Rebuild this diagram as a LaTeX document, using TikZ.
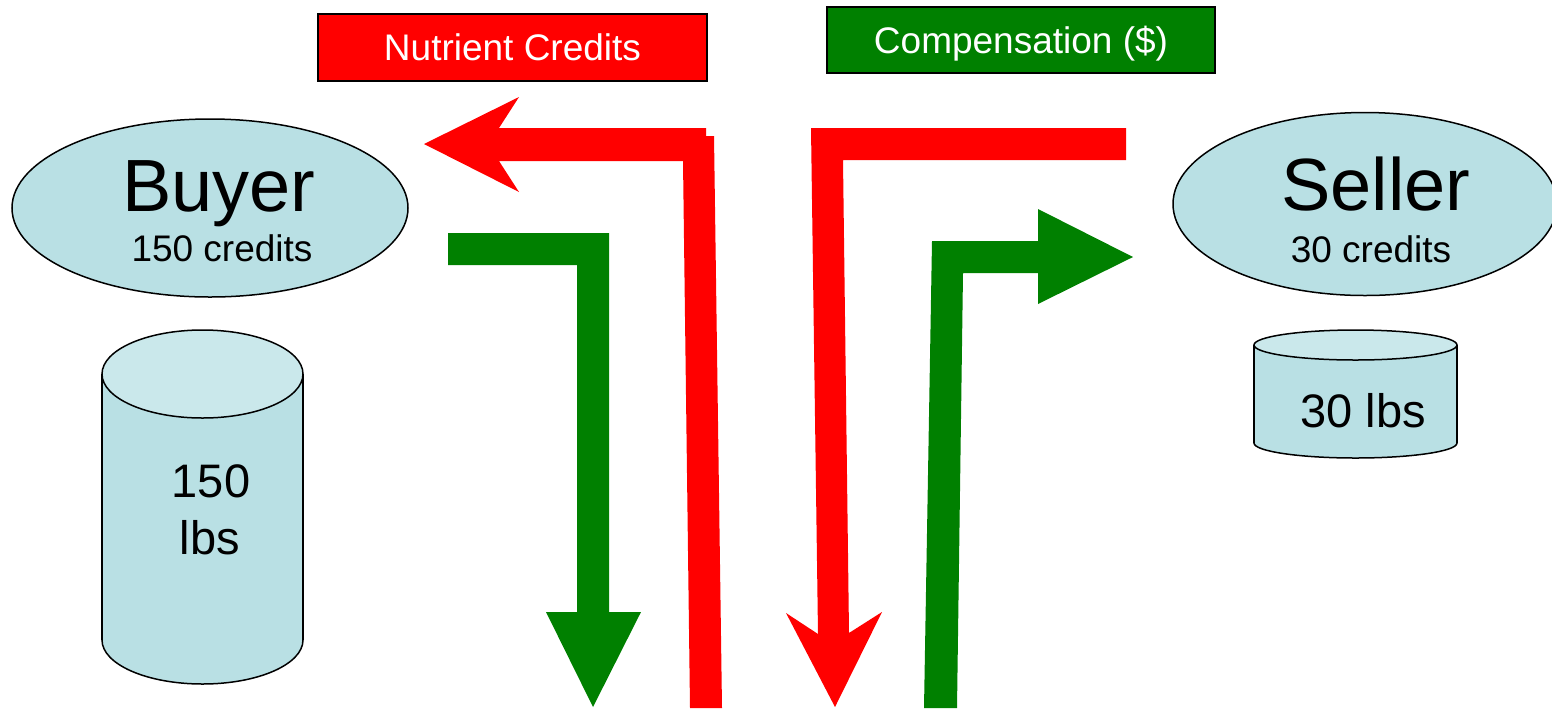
\documentclass[tikz,border=0pt]{standalone}
\usepackage{fontspec}
\setmainfont{Liberation Sans}
\usetikzlibrary{shapes.geometric}
\definecolor{partyblue}{RGB}{185,224,228}
\definecolor{lidblue}{RGB}{202,232,235}
\definecolor{cashgreen}{RGB}{0,128,0}

\begin{document}
\begin{tikzpicture}[x=0.5pt,y=-0.5pt,
    party/.style={ellipse,draw,fill=partyblue,line width=0.75pt,inner sep=0pt},
    tag/.style={rectangle,draw,line width=1pt,inner sep=0pt,text=white,font=\fontsize{18.5}{22}\selectfont,text height=13.25pt,text depth=0pt},
    big/.style={inner sep=0pt,anchor=base,font=\fontsize{37}{44}\selectfont},
    small/.style={inner sep=0pt,anchor=base,font=\fontsize{18.5}{22}\selectfont},
    stock/.style={inner sep=0pt,anchor=base,font=\fontsize{23.5}{28}\selectfont},
    tank/.style={draw,line width=0.75pt,fill=partyblue}]
    \useasboundingbox (0,0) rectangle (1552,708);

    \node[party,minimum width=198pt,minimum height=89pt] (buyer) at (210,208) {};
    \node[party,minimum width=192pt,minimum height=91.5pt] (seller) at (1365,204) {};
    \node[big] (buyername) at (219,211) {Buyer};
    \node[small] (buyercredits) at (222,261) {150 credits};
    \node[big] (sellername) at (1376,210) {Seller};
    \node[small] (sellercredits) at (1371,262) {30 credits};

    \filldraw[tank] (202.5,640) ellipse [x radius=100.5,y radius=44];
    \fill[partyblue] (102,374) rectangle (303,640);
    \draw[line width=0.75pt] (102,374) -- (102,640) (303,374) -- (303,640);
    \filldraw[tank,fill=lidblue] (202.5,374) ellipse [x radius=100.5,y radius=44];
    \node[stock] (buyerpounds) at (211,497) {150};
    \node[stock] (buyerunit) at (210,554) {lbs};

    \filldraw[tank] (1355.5,443) ellipse [x radius=101.5,y radius=15];
    \fill[partyblue] (1254,345) rectangle (1457,443);
    \draw[line width=0.75pt] (1254,345) -- (1254,443) (1457,345) -- (1457,443);
    \filldraw[tank,fill=lidblue] (1355.5,345) ellipse [x radius=101.5,y radius=15];
    \node[stock] (sellerpounds) at (1363,427) {30 lbs};

    \node[tag,fill=red,minimum width=194.5pt,minimum height=33.5pt] (credittag) at (512.5,47.5) {Nutrient Credits};
    \node[tag,fill=cashgreen,minimum width=194pt,minimum height=33pt] (cashtag) at (1021,40) {Compensation (\$)};

    \fill[red] (424,144) -- (519,97) -- (499,128) -- (706,128) -- (706,136) -- (714,136)
        -- (722,708) -- (690,708) -- (683,161) -- (499,161) -- (519,192) -- cycle;
    \fill[cashgreen] (448,233) -- (609,233) -- (609,612) -- (641,612) -- (593,707)
        -- (546,612) -- (577,612) -- (577,265) -- (448,265) -- cycle;
    \fill[red] (811,128) -- (1126,128) -- (1126,160) -- (843,160) -- (849,633)
        -- (882,612) -- (835,707) -- (786,613) -- (818,634) -- cycle;
    \fill[cashgreen] (932,241) -- (1038,241) -- (1038,209) -- (1133,257) -- (1038,304)
        -- (1038,273) -- (963,273) -- (957,708) -- (924,708) -- cycle;
\end{tikzpicture}
\end{document}
